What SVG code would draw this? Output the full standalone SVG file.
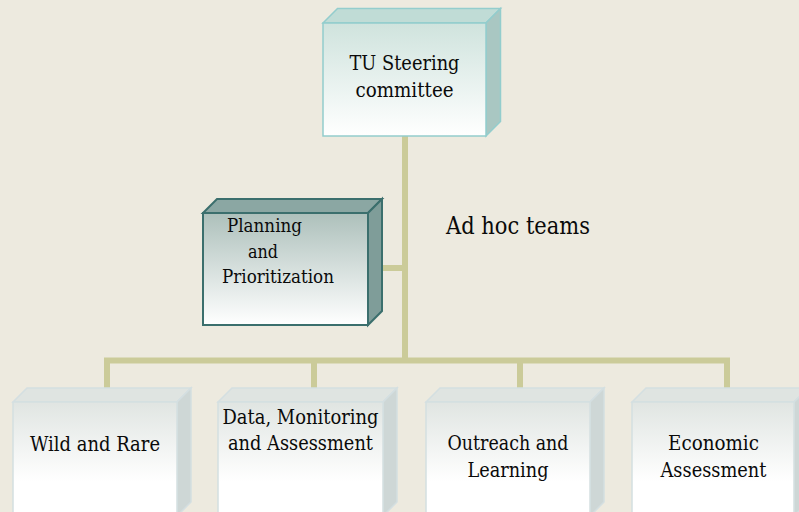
<svg xmlns="http://www.w3.org/2000/svg" width="799" height="512" viewBox="0 0 799 512">
  <defs>
    <linearGradient id="gTop" x1="0" y1="0" x2="0" y2="1">
      <stop offset="0" stop-color="#cfe3dd"/>
      <stop offset="1" stop-color="#ffffff"/>
    </linearGradient>
    <linearGradient id="gPlan" x1="0" y1="0" x2="0" y2="1">
      <stop offset="0" stop-color="#adc0bb"/>
      <stop offset="1" stop-color="#ffffff"/>
    </linearGradient>
    <linearGradient id="gTeam" x1="0" y1="0" x2="0" y2="1">
      <stop offset="0" stop-color="#e0e5e2"/>
      <stop offset="0.7" stop-color="#ffffff"/>
      <stop offset="1" stop-color="#ffffff"/>
    </linearGradient>
  </defs>
  <style>
    .conn { fill: none; stroke: #cbcb99; stroke-width: 6; }
    text { font-family: 'DejaVu Serif', 'Liberation Serif', serif; fill: #0a0a0a; }
    .m { text-anchor: middle; }
    .topbox .front { fill: url(#gTop); stroke: #93cdcd; stroke-width: 1.5; }
    .topbox .lid { fill: #c0dcd6; stroke: #93cdcd; stroke-width: 1.5; }
    .topbox .side { fill: #a9c7c2; stroke: #93cdcd; stroke-width: 1.5; }
    .plan .front { fill: url(#gPlan); stroke: #3b6f6d; stroke-width: 2; }
    .plan .lid { fill: #8ba7a3; stroke: #3b6f6d; stroke-width: 2; }
    .plan .side { fill: #7f9d99; stroke: #3b6f6d; stroke-width: 2; }
    .team .front { fill: url(#gTeam); stroke: #d4dfe1; stroke-width: 1.5; }
    .team .lid { fill: #dfe4e1; stroke: #d4dfe1; stroke-width: 1.5; }
    .team .side { fill: #ced7d6; stroke: #d4dfe1; stroke-width: 1.5; }
  </style>
  <rect x="0" y="0" width="799" height="512" fill="#edeadf"/>

  <g id="connectors">
    <path class="conn" d="M405,136 V363"/>
    <path class="conn" d="M368,268 H405"/>
    <path class="conn" d="M107,388 V360.5 H727 V388"/>
    <path class="conn" d="M314,360.5 V388"/>
    <path class="conn" d="M520,360.5 V388"/>
  </g>

  <g id="tu-steering" class="topbox">
    <polygon class="lid" points="323,23 337.5,8.5 500.5,8.5 486,23"/>
    <polygon class="side" points="486,23 500.5,8.5 500.5,121.5 486,136"/>
    <rect class="front" x="323" y="23" width="163" height="113"/>
    <text class="m" x="404.5" y="70" font-size="21" textLength="110" lengthAdjust="spacingAndGlyphs">TU Steering</text>
    <text class="m" x="404.5" y="97" font-size="21" textLength="98" lengthAdjust="spacingAndGlyphs">committee</text>
  </g>

  <g id="planning" class="plan">
    <polygon class="lid" points="203,213 217,199 382,199 368,213"/>
    <polygon class="side" points="368,213 382,199 382,311 368,325"/>
    <rect class="front" x="203" y="213" width="165" height="112"/>
    <text x="227" y="232" font-size="19" textLength="75" lengthAdjust="spacingAndGlyphs">Planning</text>
    <text x="248" y="258" font-size="19" textLength="30" lengthAdjust="spacingAndGlyphs">and</text>
    <text x="222" y="283" font-size="19" textLength="112" lengthAdjust="spacingAndGlyphs">Prioritization</text>
  </g>

  <g id="ad-hoc-label">
    <text x="446" y="234" font-size="24" textLength="144" lengthAdjust="spacingAndGlyphs">Ad hoc teams</text>
  </g>

  <g id="wild-rare" class="team">
    <polygon class="lid" points="13,402 27,388 191,388 177,402"/>
    <polygon class="side" points="177,402 191,388 191,502 177,516"/>
    <rect class="front" x="13" y="402" width="164" height="114"/>
    <text class="m" x="95" y="451" font-size="21" textLength="130" lengthAdjust="spacingAndGlyphs">Wild and Rare</text>
  </g>

  <g id="data-monitoring" class="team">
    <polygon class="lid" points="218,402 232,388 397,388 383,402"/>
    <polygon class="side" points="383,402 397,388 397,502 383,516"/>
    <rect class="front" x="218" y="402" width="165" height="114"/>
    <text class="m" x="300.5" y="424" font-size="21" textLength="156" lengthAdjust="spacingAndGlyphs">Data, Monitoring</text>
    <text class="m" x="300.5" y="450" font-size="21" textLength="145" lengthAdjust="spacingAndGlyphs">and Assessment</text>
  </g>

  <g id="outreach" class="team">
    <polygon class="lid" points="426,402 440,388 604,388 590,402"/>
    <polygon class="side" points="590,402 604,388 604,502 590,516"/>
    <rect class="front" x="426" y="402" width="164" height="114"/>
    <text class="m" x="508" y="450" font-size="21" textLength="121" lengthAdjust="spacingAndGlyphs">Outreach and</text>
    <text class="m" x="508" y="477" font-size="21" textLength="81" lengthAdjust="spacingAndGlyphs">Learning</text>
  </g>

  <g id="economic" class="team">
    <polygon class="lid" points="632,402 646,388 808,388 794,402"/>
    <polygon class="side" points="794,402 808,388 808,502 794,516"/>
    <rect class="front" x="632" y="402" width="162" height="114"/>
    <text class="m" x="713.5" y="450" font-size="21" textLength="91" lengthAdjust="spacingAndGlyphs">Economic</text>
    <text class="m" x="713.5" y="477" font-size="21" textLength="106" lengthAdjust="spacingAndGlyphs">Assessment</text>
  </g>
</svg>
